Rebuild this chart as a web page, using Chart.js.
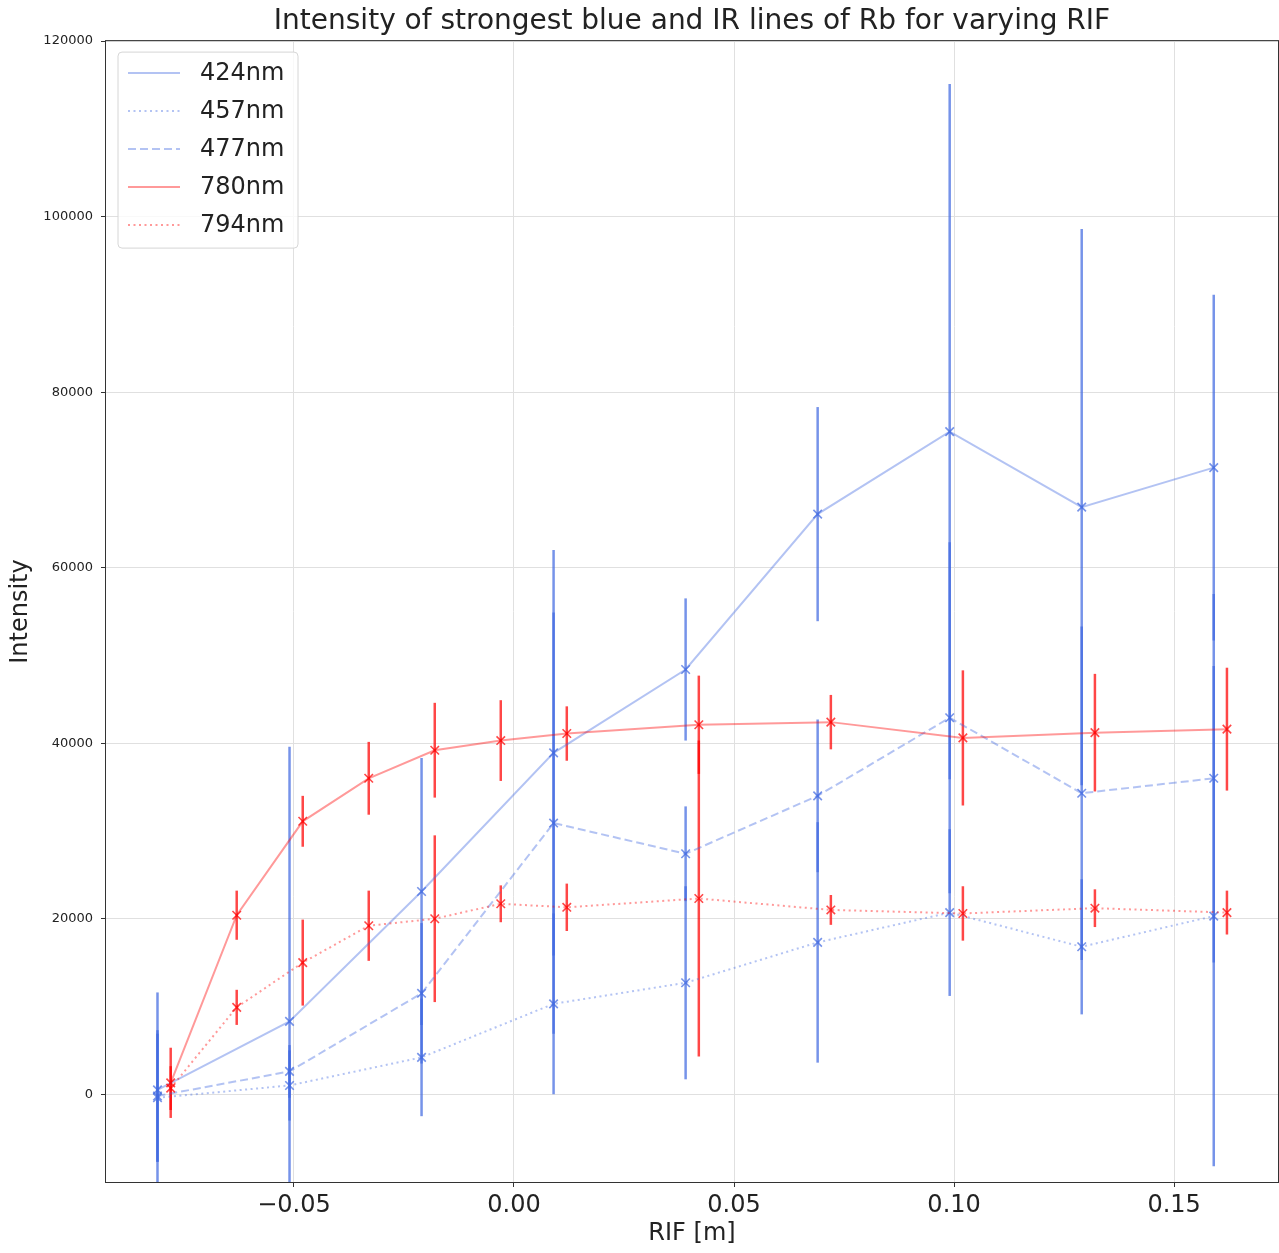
<!DOCTYPE html>
<html>
<head>
<meta charset="utf-8">
<script src="https://cdn.jsdelivr.net/npm/chart.js@4/dist/chart.umd.min.js"></script>
<style>
  html, body { margin: 0; padding: 0; background: #fff; }
  #wrap { width: 1279px; height: 1253px; position: relative; }
</style>
</head>
<body>
<div id="wrap"><canvas id="rbChart"></canvas></div>
<script>
// RIF positions (m)
const blueX = [-0.081, -0.051, -0.021, 0.009, 0.039, 0.069, 0.099, 0.129, 0.159];
const redX = [-0.078, -0.063, -0.048, -0.033, -0.018, -0.003, 0.012, 0.042, 0.072, 0.102, 0.132, 0.162];

// intensities and their errors
const i424 = [500, 8300, 23100, 38900, 48400, 66100, 75500, 66900, 71400];
const e424 = [11100, 31300, 15200, 23100, 8100, 12200, 39600, 31700, 19700];
const i457 = [-400, 1000, 4200, 10300, 12700, 17300, 20700, 16800, 20300];
const e457 = [7300, 4000, 6700, 10300, 11000, 13700, 9500, 7700, 28500];
const i477 = [-200, 2600, 11500, 30900, 27400, 34000, 42900, 34300, 36000];
const e477 = [7500, 3000, 8000, 24000, 5400, 8700, 20000, 19000, 21000];
const i780 = [1300, 20400, 31100, 36000, 39200, 40300, 41100, 42100, 42400, 40600, 41200, 41600];
const e780 = [4000, 2800, 2900, 4150, 5400, 4600, 3100, 5600, 3100, 7700, 6700, 7000];
const i794 = [700, 9900, 15000, 19200, 20000, 21700, 21300, 22300, 21000, 20600, 21200, 20700];
const e794 = [2500, 2000, 4900, 4000, 9500, 2100, 2700, 18000, 1700, 3100, 2150, 2500];

const xTicks = [-0.05, 0, 0.05, 0.10, 0.15];
const yTicks = [0, 20000, 40000, 60000, 80000, 100000, 120000];

const BLUE_LINE = 'rgba(65,105,225,0.4)';
const BLUE_BAR = 'rgba(65,105,225,0.72)';
const RED_LINE = 'rgba(255,0,0,0.4)';
const RED_BAR = 'rgba(255,0,0,0.72)';

function pts(xs, ys) {
  return xs.map((x, i) => ({ x: x, y: ys[i] }));
}

function series(label, xs, ys, errs, line, bar, dash) {
  return {
    label: label,
    data: pts(xs, ys),
    errors: errs,
    errColor: bar,
    borderColor: line,
    borderWidth: 2,
    borderDash: dash,
    pointStyle: 'crossRot',
    pointRadius: 6,
    pointBorderWidth: 1.6,
    pointBorderColor: bar,
    pointBackgroundColor: bar,
    fill: false,
    tension: 0
  };
}

const datasets = [
  series('424nm', blueX, i424, e424, BLUE_LINE, BLUE_BAR, []),
  series('457nm', blueX, i457, e457, BLUE_LINE, BLUE_BAR, [2, 3.5]),
  series('477nm', blueX, i477, e477, BLUE_LINE, BLUE_BAR, [8, 4]),
  series('780nm', redX, i780, e780, RED_LINE, RED_BAR, []),
  series('794nm', redX, i794, e794, RED_LINE, RED_BAR, [2, 3.5])
];
datasets.forEach((d, i) => { d.order = datasets.length - i; });

// vertical error bars, drawn under the lines
const errorBars = {
  id: 'errorBars',
  beforeDatasetsDraw(chart) {
    const { ctx, chartArea: a, scales: { x, y } } = chart;
    ctx.save();
    ctx.beginPath();
    ctx.rect(a.left, a.top, a.right - a.left, a.bottom - a.top);
    ctx.clip();
    ctx.lineWidth = 2.5;
    chart.data.datasets.forEach(ds => {
      ctx.strokeStyle = ds.errColor;
      ds.data.forEach((p, i) => {
        const px = x.getPixelForValue(p.x);
        ctx.beginPath();
        ctx.moveTo(px, y.getPixelForValue(p.y - ds.errors[i]));
        ctx.lineTo(px, y.getPixelForValue(p.y + ds.errors[i]));
        ctx.stroke();
      });
    });
    ctx.restore();
  }
};

// axes frame + legend box inside the plot
const frameAndLegend = {
  id: 'frameAndLegend',
  afterDraw(chart) {
    const { ctx, chartArea: a } = chart;
    ctx.save();
    ctx.strokeStyle = '#333';
    ctx.lineWidth = 1;
    ctx.strokeRect(a.left - 0.5, a.top - 0.5, a.right - a.left + 1, a.bottom - a.top + 1);

    const bx = a.left + 12, by = a.top + 11, bw = 180, bh = 196;
    ctx.beginPath();
    ctx.roundRect(bx, by, bw, bh, 4);
    ctx.fillStyle = 'rgba(255,255,255,0.8)';
    ctx.fill();
    ctx.strokeStyle = '#d6d6d6';
    ctx.stroke();

    ctx.font = '24px "DejaVu Sans"';
    ctx.textBaseline = 'middle';
    ctx.fillStyle = '#222';
    chart.data.datasets.forEach((ds, i) => {
      const ry = by + 21 + i * 38;
      ctx.beginPath();
      ctx.setLineDash(ds.borderDash || []);
      ctx.strokeStyle = ds.borderColor;
      ctx.lineWidth = 2;
      ctx.moveTo(bx + 10, ry);
      ctx.lineTo(bx + 62, ry);
      ctx.stroke();
      ctx.setLineDash([]);
      ctx.fillText(ds.label, bx + 82, ry + 1);
    });
    ctx.restore();
  }
};

Chart.defaults.font.family = '"DejaVu Sans", sans-serif';
Chart.defaults.color = '#222';

new Chart(document.getElementById('rbChart').getContext('2d'), {
  type: 'line',
  data: { datasets: datasets },
  options: {
    responsive: true,
    maintainAspectRatio: false,
    animation: false,
    layout: { autoPadding: false, padding: { right: 1, left: 0, top: 0, bottom: 0 } },
    plugins: {
      legend: { display: false },
      tooltip: { enabled: false },
      title: {
        display: true,
        fullSize: false,
        text: 'Intensity of strongest blue and IR lines of Rb for varying RIF',
        font: { size: 28, weight: 'normal' },
        color: '#222',
        padding: { top: 5, bottom: 2.5 }
      }
    },
    scales: {
      x: {
        type: 'linear',
        min: -0.0927,
        max: 0.1736,
        afterBuildTicks: axis => { axis.ticks = xTicks.map(v => ({ value: v })); },
        afterFit: axis => { axis.height = 71; },
        ticks: {
          font: { size: 24 },
          color: '#222',
          padding: 4,
          maxRotation: 0,
          callback: v => (v < 0 ? '\u2212' + Math.abs(v).toFixed(2) : v.toFixed(2))
        },
        grid: { color: '#e0e0e0', tickColor: '#333', tickLength: 5 },
        border: { display: false },
        title: {
          display: true,
          text: 'RIF [m]',
          font: { size: 24 },
          color: '#222',
          padding: { top: 0, bottom: 5 }
        }
      },
      y: {
        min: -10000,
        max: 120000,
        afterBuildTicks: axis => { axis.ticks = yTicks.map(v => ({ value: v })); },
        afterFit: axis => { axis.width = 106; },
        ticks: { font: { size: 13 }, color: '#222', padding: 8, callback: v => String(v) },
        grid: { color: '#e0e0e0', tickColor: '#333', tickLength: 5 },
        border: { display: false },
        title: {
          display: true,
          text: 'Intensity',
          font: { size: 24 },
          color: '#222',
          padding: { top: 6, bottom: 0 }
        }
      }
    }
  },
  plugins: [errorBars, frameAndLegend]
});
</script>
</body>
</html>
